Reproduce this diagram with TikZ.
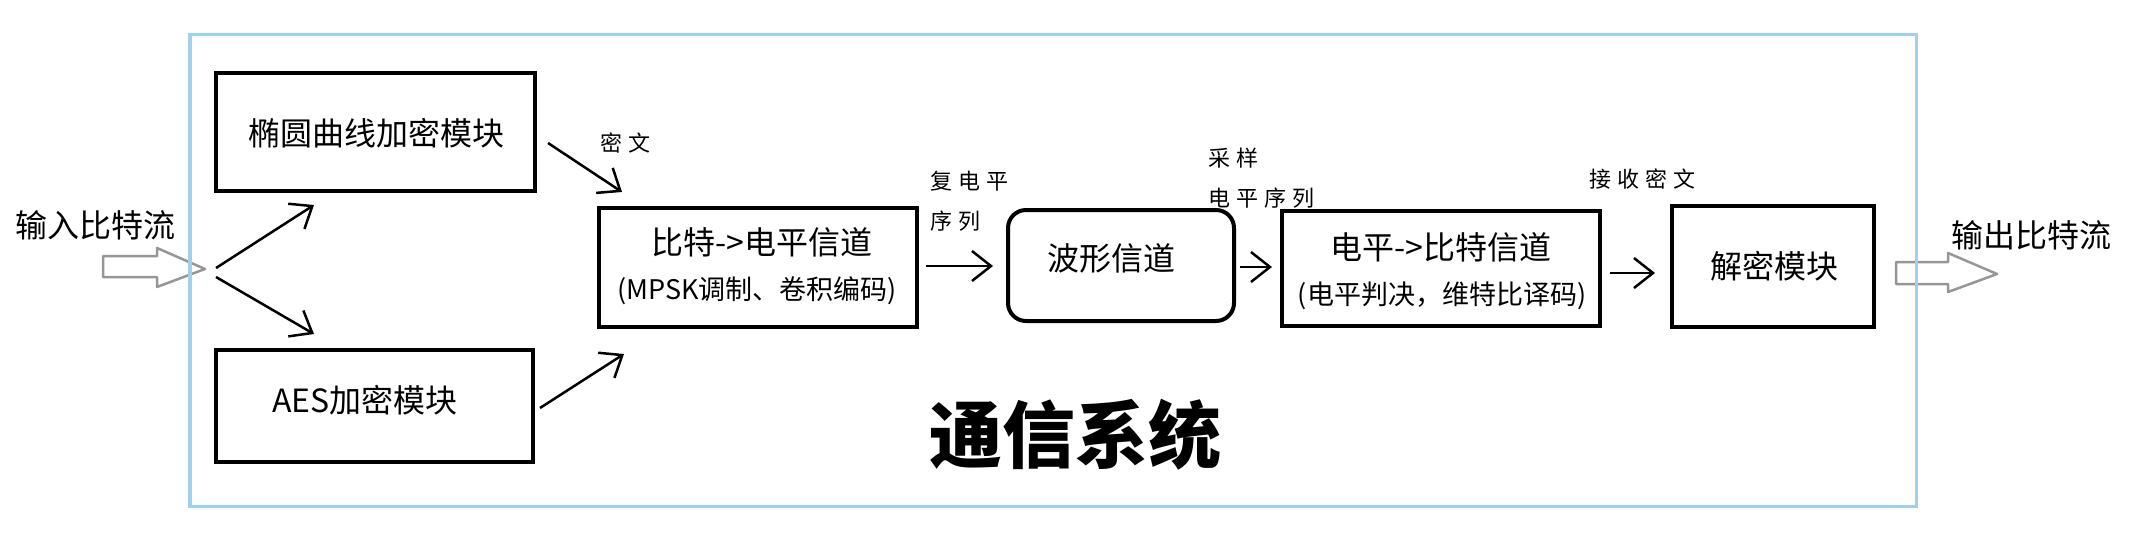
\documentclass[tikz,border=0pt]{standalone}
\usepackage{fontspec}
\setmainfont{Noto Sans CJK SC}
\newfontfamily\labfont[LetterSpace=28]{Noto Sans CJK SC}
\usetikzlibrary{arrows.meta}
\definecolor{framecol}{RGB}{160,208,236}
\definecolor{hollowcol}{RGB}{150,150,150}
\begin{document}
\begin{tikzpicture}[x=1pt,y=-1pt,
  blockbox/.style={draw,line width=4pt,inner sep=0pt,minimum width=#1},
  bigtext/.style={font=\fontsize{32}{38}\selectfont,inner sep=0pt},
  subtext/.style={font=\fontsize{27}{32}\selectfont,inner sep=0pt},
  labtext/.style={font=\labfont\fontsize{22}{40}\selectfont,inner sep=0pt,anchor=west,align=left},
  arr/.style={line width=2.5pt,-{Straight Barb[length=19pt,width=30pt]}},
  hollow/.style={draw=hollowcol,line width=2.5pt,line join=round}
]
\useasboundingbox (0,0) rectangle (2151,535);

% hollow input/output arrows
\draw[hollow] (103,256) -- (157,256) -- (157,248) -- (205,269) -- (157,287) -- (157,277) -- (103,277) -- cycle;
\draw[hollow] (1896,262) -- (1948,262) -- (1948,253) -- (1997,274) -- (1948,292) -- (1948,284) -- (1896,284) -- cycle;

% frame
\node[draw=framecol,line width=3.5pt,minimum width=1726.5pt,minimum height=471.5pt,inner sep=0pt] (frame) at (1053,270.5) {};

% boxes
\node[blockbox=319pt,minimum height=118pt] (ecc) at (375.5,132) {};
\node[blockbox=317pt,minimum height=112pt] (aes) at (374.5,406) {};
\node[blockbox=318pt,minimum height=119pt] (bit) at (758,267.5) {};
\node[blockbox=226pt,minimum height=111pt,rounded corners=18pt] (wave) at (1121,265.5) {};
\node[blockbox=318pt,minimum height=115pt] (level) at (1441,268.5) {};
\node[blockbox=202pt,minimum height=121pt] (dec) at (1773,266.5) {};

% box texts
\node[bigtext] (ecct) at (376,133) {椭圆曲线加密模块};
\node[bigtext] (aest) at (365,400) {AES加密模块};
\node[bigtext] (bitt1) at (762,242) {比特->电平信道};
\node[subtext] (bitt2) at (757,291) {(MPSK调制、卷积编码)};
\node[bigtext] (wavet) at (1111,258) {波形信道};
\node[bigtext] (levelt1) at (1441,247) {电平->比特信道};
\node[subtext] (levelt2) at (1442,296) {(电平判决，维特比译码)};
\node[bigtext] (dect) at (1774,266) {解密模块};

% outer texts
\node[bigtext] (inp) at (96,225) {输入比特流};
\node[bigtext] (outp) at (2031,235) {输出比特流};
\node[font=\bfseries\fontsize{73}{80}\selectfont,inner sep=0pt] (title) at (1075,435) {通信系统};

% labels
\node[labtext] (l1) at (600,143) {密文};
\node[labtext] (l2) at (930,201) {复电平\\序列};
\node[labtext] (l3) at (1208,178) {采样\\电平序列};
\node[labtext] (l4) at (1589,179) {接收密文};

% arrow endpoints
\coordinate (s1) at (216,268); \coordinate (e1) at (314,205);
\coordinate (s2) at (216,277); \coordinate (e2) at (314,334);
\coordinate (s3) at (548,143); \coordinate (e3) at (622,192);
\coordinate (s4) at (540,408); \coordinate (e4) at (624,354);
\coordinate (s5) at (926,266); \coordinate (e5) at (993,266);
\coordinate (s6) at (1240,267); \coordinate (e6) at (1272,267);
\coordinate (s7) at (1610,273); \coordinate (e7) at (1655,273);

\draw[arr] (s1) -- (e1);
\draw[arr] (s2) -- (e2);
\draw[arr] (s3) -- (e3);
\draw[arr] (s4) -- (e4);
\draw[arr] (s5) -- (e5);
\draw[arr] (s6) -- (e6);
\draw[arr] (s7) -- (e7);
\end{tikzpicture}
\end{document}
